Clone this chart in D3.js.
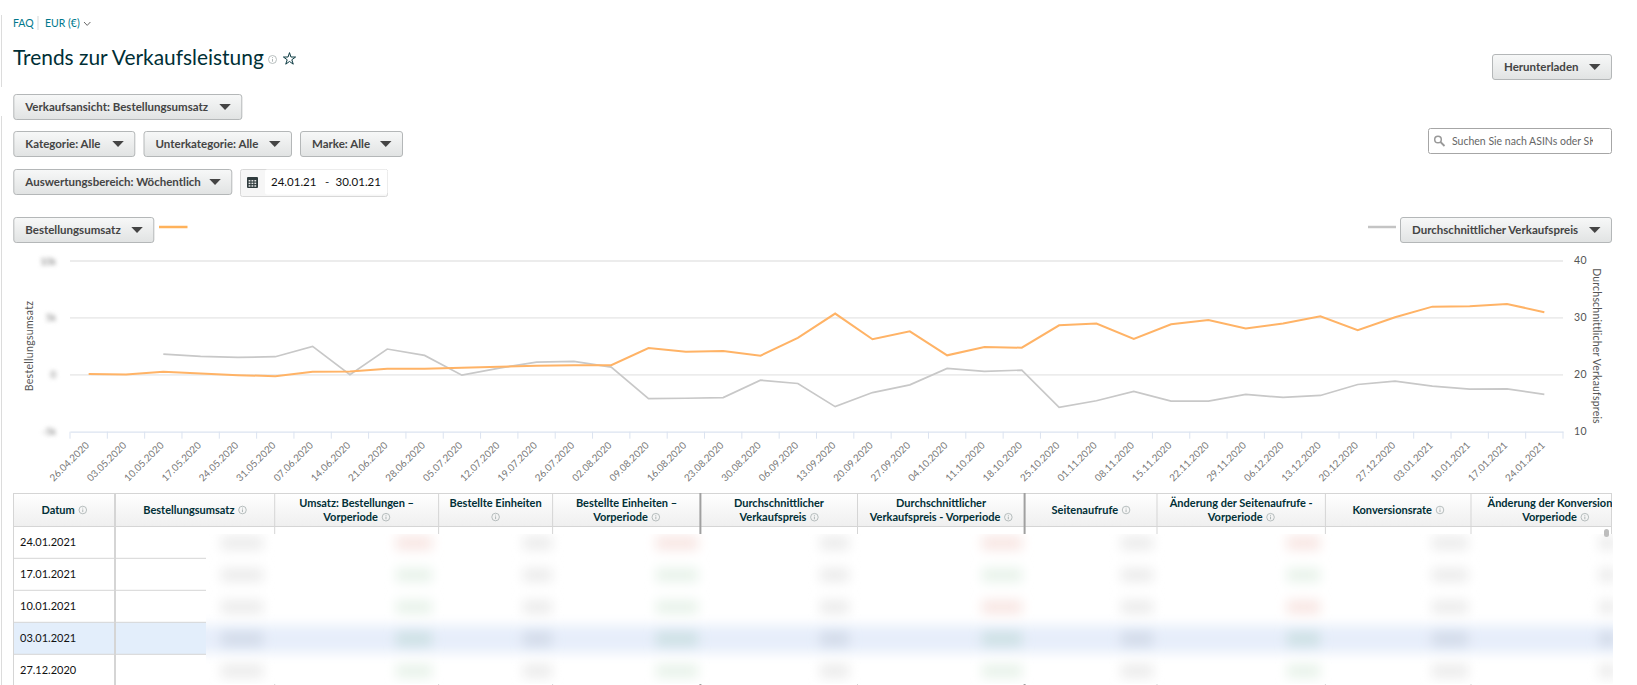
<!DOCTYPE html>
<html>
<head>
<meta charset="utf-8">
<script src="https://cdn.jsdelivr.net/npm/d3@7"></script>
<style>
  html, body { margin: 0; padding: 0; background: #fff; overflow: hidden; }
  text { font-family: Lato, "Noto Sans", sans-serif; }
  .btn text { font-weight: 700; font-size: 11.5px; fill: #444; }
  .th { font-weight: 700; font-size: 11px; fill: #002f36; text-anchor: middle; }
  .blurred { filter: blur(2px); }
</style>
</head>
<body>
<div id="container"></div>
<script>
const width = 1637;
const height = 685;

const dates = ["26.04.2020","03.05.2020","10.05.2020","17.05.2020","24.05.2020","31.05.2020","07.06.2020","14.06.2020","21.06.2020","28.06.2020",
  "05.07.2020","12.07.2020","19.07.2020","26.07.2020","02.08.2020","09.08.2020","16.08.2020","23.08.2020","30.08.2020","06.09.2020",
  "13.09.2020","20.09.2020","27.09.2020","04.10.2020","11.10.2020","18.10.2020","25.10.2020","01.11.2020","08.11.2020","15.11.2020",
  "22.11.2020","29.11.2020","06.12.2020","13.12.2020","20.12.2020","27.12.2020","03.01.2021","10.01.2021","17.01.2021","24.01.2021"];

// Bestellungsumsatz in thousands
const umsatz = [0.06,0.03,0.26,0.12,-0.03,-0.12,0.26,0.29,0.53,0.53,
  0.62,0.70,0.79,0.85,0.85,2.35,2.03,2.09,1.68,3.24,
  5.38,3.12,3.82,1.71,2.44,2.38,4.35,4.50,3.16,4.44,
  4.82,4.06,4.50,5.15,3.92,5.06,5.99,6.02,6.23,5.50];

// Durchschnittlicher Verkaufspreis, right axis; no value for the first two weeks
const preis = [null,null,23.65,23.24,23.06,23.18,25.0,20.0,24.53,23.41,
  19.94,21.18,22.24,22.35,21.35,15.82,15.88,16.0,19.06,18.47,
  14.41,16.88,18.24,21.12,20.59,20.82,14.29,15.44,17.08,15.38,
  15.38,16.55,16.02,16.37,18.30,18.89,18.01,17.49,17.54,16.55];

const buttons = [
  { label: "Verkaufsansicht: Bestellungsumsatz", x: 13.3, y: 94, w: 229 },
  { label: "Kategorie: Alle", x: 13.3, y: 131, w: 122 },
  { label: "Unterkategorie: Alle", x: 143.5, y: 131, w: 148.5 },
  { label: "Marke: Alle", x: 300, y: 131, w: 103 },
  { label: "Auswertungsbereich: Wöchentlich", x: 13.3, y: 169, w: 219 },
  { label: "Bestellungsumsatz", x: 13.3, y: 217, w: 141 },
  { label: "Durchschnittlicher Verkaufspreis", x: 1400, y: 217, w: 212 },
  { label: "Herunterladen", x: 1492, y: 54, w: 120 },
];

const columns = [
  { x0: 13.3, x1: 115, lines: ["Datum"] },
  { x0: 115, x1: 274.7, lines: ["Bestellungsumsatz"] },
  { x0: 274.7, x1: 438.6, lines: ["Umsatz: Bestellungen –", "Vorperiode"] },
  { x0: 438.6, x1: 552.6, lines: ["Bestellte Einheiten", ""] },
  { x0: 552.6, x1: 700.4, lines: ["Bestellte Einheiten –", "Vorperiode"] },
  { x0: 700.4, x1: 857.5, lines: ["Durchschnittlicher", "Verkaufspreis"] },
  { x0: 857.5, x1: 1024.6, lines: ["Durchschnittlicher", "Verkaufspreis - Vorperiode"] },
  { x0: 1024.6, x1: 1157, lines: ["Seitenaufrufe"] },
  { x0: 1157, x1: 1325.4, lines: ["Änderung der Seitenaufrufe -", "Vorperiode"] },
  { x0: 1325.4, x1: 1471, lines: ["Konversionsrate"] },
  { x0: 1471, x1: 1640, lines: ["Änderung der Konversionsrate -", "Vorperiode"], firstDx: 10 },
];

const rows = ["24.01.2021", "17.01.2021", "10.01.2021", "03.01.2021", "27.12.2020"];
const rowTop = [526.3, 558.3, 590.3, 622.3, 654.3];

// blurred table values: x range per column and the tint of each row
const smudges = [
  { x0: 221, x1: 263, c: "ggggg" },
  { x0: 396, x1: 432, c: "rtttt" },
  { x0: 523, x1: 552, c: "ggggg" },
  { x0: 656, x1: 698, c: "rtttt" },
  { x0: 820, x1: 849, c: "ggggg" },
  { x0: 982, x1: 1022, c: "rtrtt" },
  { x0: 1121, x1: 1153, c: "ggggg" },
  { x0: 1287, x1: 1320, c: "rtrtt" },
  { x0: 1432, x1: 1468, c: "ggggg" },
  { x0: 1599, x1: 1616, c: "ggggg" },
];
const tint = {
  g: ["#ececec", "#d3dbe9"],
  r: ["#f8e6e3", "#dcd6e4"],
  t: ["#e8f3ea", "#cde1e4"],
};

const svg = d3.select("#container").append("svg")
  .attr("width", width)
  .attr("height", height)
  .attr("viewBox", [0, 0, width, height])
  .style("display", "block");

const defs = svg.append("defs");
const grad = defs.append("linearGradient").attr("id", "btnGrad").attr("x2", 0).attr("y2", 1);
grad.append("stop").attr("offset", 0).attr("stop-color", "#f7f8f8");
grad.append("stop").attr("offset", 1).attr("stop-color", "#e1e3e3");
const headGrad = defs.append("linearGradient").attr("id", "headGrad").attr("x2", 0).attr("y2", 1);
headGrad.append("stop").attr("offset", 0).attr("stop-color", "#ffffff");
headGrad.append("stop").attr("offset", 1).attr("stop-color", "#efefef");
defs.append("filter").attr("id", "soft").attr("filterUnits", "userSpaceOnUse")
  .attr("x", 100).attr("y", 500).attr("width", 1637).attr("height", 220)
  .append("feGaussianBlur").attr("stdDeviation", 6);
defs.append("clipPath").attr("id", "tableClip").append("rect")
  .attr("x", 13).attr("y", 490).attr("width", 1599).attr("height", 200);
defs.append("clipPath").attr("id", "blockClip").append("rect")
  .attr("x", 206).attr("y", 534).attr("width", 1407).attr("height", 150);

function infoIcon(parent, x, y, r = 3.8, color = "#a6afaf") {
  const g = parent.append("g").attr("transform", `translate(${x},${y})`);
  g.append("circle").attr("r", r).attr("fill", "none").attr("stroke", color).attr("stroke-width", 0.8);
  g.append("line").attr("y1", -0.6).attr("y2", r * 0.55).attr("stroke", color).attr("stroke-width", 0.9);
  g.append("circle").attr("cy", -r * 0.5).attr("r", 0.5).attr("fill", color);
}

// page frame on the far left
svg.selectAll(".frame").data([[15, 87], [116, 685]]).join("line")
  .attr("x1", 1.5).attr("x2", 1.5)
  .attr("y1", (d) => d[0]).attr("y2", (d) => d[1])
  .attr("stroke", "#dcdcdc").attr("stroke-width", 1);

// top links and title
svg.append("text").attr("x", 13).attr("y", 27).attr("font-size", 10.5).attr("fill", "#00788c").text("FAQ");
svg.append("line").attr("x1", 38).attr("x2", 38).attr("y1", 16).attr("y2", 30).attr("stroke", "#d5d9d9");
svg.append("text").attr("x", 45).attr("y", 27).attr("font-size", 10.5).attr("fill", "#00788c").text("EUR (€)");
svg.append("path").attr("d", "M84 22 l3.2 3.4 l3.2 -3.4").attr("fill", "none").attr("stroke", "#555").attr("stroke-width", 0.9);
svg.append("text").attr("x", 13).attr("y", 65).attr("font-size", 20.9).attr("fill", "#002f36").text("Trends zur Verkaufsleistung");
infoIcon(svg, 272.5, 59.5, 4);
svg.append("path").attr("transform", "translate(289.5,59)")
  .attr("d", d3.symbol(d3.symbolStar, 46))
  .attr("fill", "none").attr("stroke", "#0b3a42").attr("stroke-width", 1);

// dropdown buttons
const btn = svg.selectAll(".btn").data(buttons).join("g")
  .attr("class", "btn")
  .attr("transform", (d) => `translate(${d.x},${d.y})`);
btn.append("rect")
  .attr("x", 0.5).attr("y", 0.5)
  .attr("width", (d) => d.w - 1).attr("height", 25)
  .attr("rx", 2.5)
  .attr("fill", "url(#btnGrad)")
  .attr("stroke", "#b4b7b8");
btn.append("text").attr("x", 12).attr("y", 17).text((d) => d.label);
btn.append("path")
  .attr("d", (d) => `M${d.w - 23} 10 h11.5 l-5.75 6 z`)
  .attr("fill", "#444");

// date range box
svg.append("rect").attr("x", 240.5).attr("y", 169.5).attr("width", 147).attr("height", 27)
  .attr("rx", 2).attr("fill", "#f6f6f6").attr("stroke", "#d8d8d8");
svg.append("rect").attr("x", 265).attr("y", 169.5).attr("width", 122.5).attr("height", 25)
  .attr("rx", 2).attr("fill", "#fff");
const cal = svg.append("g").attr("transform", "translate(247,177)");
cal.append("rect").attr("width", 11).attr("height", 11).attr("rx", 1).attr("fill", "#2f3b3d");
d3.range(3).forEach((r) => d3.range(3).forEach((c) => {
  cal.append("rect").attr("x", 1.6 + c * 2.9).attr("y", 3 + r * 2.6).attr("width", 1.8).attr("height", 1.5).attr("fill", "#e8e8e8");
}));
svg.append("text").attr("x", 271).attr("y", 186).attr("font-size", 11.5).attr("fill", "#111").text("24.01.21");
svg.append("text").attr("x", 325).attr("y", 186).attr("font-size", 11.5).attr("fill", "#333").text("-");
svg.append("text").attr("x", 335.5).attr("y", 186).attr("font-size", 11.5).attr("fill", "#111").text("30.01.21");

// search box
svg.append("rect").attr("x", 1428.5).attr("y", 128.5).attr("width", 183).attr("height", 25)
  .attr("rx", 2).attr("fill", "#fff").attr("stroke", "#a6a6a6");
svg.append("circle").attr("cx", 1438).attr("cy", 139.5).attr("r", 3.3).attr("fill", "none").attr("stroke", "#999").attr("stroke-width", 1.5);
svg.append("line").attr("x1", 1440.5).attr("y1", 142).attr("x2", 1444.5).attr("y2", 146).attr("stroke", "#999").attr("stroke-width", 1.8);
defs.append("clipPath").attr("id", "searchClip").append("rect").attr("x", 1450).attr("y", 128).attr("width", 143).attr("height", 26);
svg.append("text").attr("x", 1452).attr("y", 145).attr("font-size", 10.5).attr("fill", "#666")
  .attr("clip-path", "url(#searchClip)").text("Suchen Sie nach ASINs oder SKUs");

// legend dashes next to the two metric dropdowns
svg.append("line").attr("x1", 159).attr("x2", 187.5).attr("y1", 227).attr("y2", 227).attr("stroke", "#ffb25b").attr("stroke-width", 2.5);
svg.append("line").attr("x1", 1368).attr("x2", 1396).attr("y1", 227).attr("y2", 227).attr("stroke", "#c4c4c4").attr("stroke-width", 2.5);

// chart
const plot = { left: 70, right: 1563, top: 261, bottom: 431.7 };
const x = d3.scaleBand().domain(dates).range([plot.left, plot.right]);
const yLeft = d3.scaleLinear().domain([-5, 10]).range([plot.bottom, plot.top]);
const yRight = d3.scaleLinear().domain([10, 40]).range([plot.bottom, plot.top]);

const rightAxis = svg.append("g")
  .attr("transform", `translate(${plot.right},0)`)
  .call(d3.axisRight(yRight).tickValues([10, 20, 30, 40]).tickSize(0).tickPadding(11));
rightAxis.select(".domain").remove();
rightAxis.selectAll("text").attr("font-size", 10.5).attr("fill", "#555").attr("letter-spacing", 0.5).attr("dy", "0.25em")
  .style("font-family", "Lato");

const leftAxis = svg.append("g")
  .attr("transform", `translate(${plot.left},0)`)
  .call(d3.axisLeft(yLeft).tickValues([-5, 0, 5, 10]).tickSize(0).tickPadding(14).tickFormat((d) => (d === 0 ? "0" : `${d}k`)));
leftAxis.select(".domain").remove();
leftAxis.selectAll("text").attr("font-size", 9.5).attr("fill", "#777").attr("class", "blurred")
  .style("font-family", "Lato");

svg.append("g").selectAll("line").data([0, 5, 10]).join("line")
  .attr("x1", plot.left).attr("x2", plot.right)
  .attr("y1", (d) => yLeft(d)).attr("y2", (d) => yLeft(d))
  .attr("stroke", "#ececec").attr("stroke-width", 1.8);

const xAxis = svg.append("g")
  .attr("transform", `translate(0,${plot.bottom})`)
  .call(d3.axisBottom(x).tickSize(0));
xAxis.select(".domain").attr("stroke", "#dbe3f0").attr("stroke-width", 1.2);
xAxis.selectAll("text")
  .attr("font-size", 9.8)
  .attr("fill", "#777")
  .attr("letter-spacing", 0.1)
  .attr("text-anchor", "end")
  .attr("transform", "translate(-3,10) rotate(-45)")
  .attr("dx", 0).attr("dy", "0.6em").attr("y", 0)
  .style("font-family", "Lato");
xAxis.append("g").selectAll("line")
  .data(dates.map((d) => x(d)).concat(plot.right))
  .join("line")
  .attr("x1", (d) => d).attr("x2", (d) => d)
  .attr("y1", 0).attr("y2", 7)
  .attr("stroke", "#dbe3f0").attr("stroke-width", 1);

const cx = (i) => x(dates[i]) + x.bandwidth() / 2;
svg.append("path")
  .attr("fill", "none").attr("stroke", "#c8c8c8").attr("stroke-width", 1.7)
  .attr("d", d3.line().defined((d) => d !== null).x((d, i) => cx(i)).y((d) => yRight(d))(preis));
svg.append("path")
  .attr("fill", "none").attr("stroke", "#ffb366").attr("stroke-width", 2)
  .attr("d", d3.line().x((d, i) => cx(i)).y((d) => yLeft(d))(umsatz));

svg.append("text").attr("transform", "translate(33,346) rotate(-90)").attr("text-anchor", "middle")
  .attr("font-size", 10.5).attr("fill", "#555").attr("letter-spacing", 0.3).text("Bestellungsumsatz");
svg.append("text").attr("transform", "translate(1593,346) rotate(90)").attr("text-anchor", "middle")
  .attr("font-size", 10.5).attr("fill", "#555").attr("letter-spacing", 0.2).text("Durchschnittlicher Verkaufspreis");

// table
const table = svg.append("g").attr("clip-path", "url(#tableClip)");
table.append("rect").attr("x", 13.5).attr("y", 493.5).attr("width", 1598).attr("height", 33)
  .attr("fill", "url(#headGrad)").attr("stroke", "#d5d5d5");
table.append("rect").attr("x", 13.5).attr("y", rowTop[3]).attr("width", 1598).attr("height", 32).attr("fill", "#e3eefb");

table.selectAll(".rowline").data(rowTop.slice(1)).join("line")
  .attr("x1", 13).attr("x2", 1612)
  .attr("y1", (d) => d).attr("y2", (d) => d)
  .attr("stroke", "#d5d5d5");

table.selectAll(".colline").data(columns.slice(1)).join("line")
  .attr("x1", (d) => d.x0).attr("x2", (d) => d.x0)
  .attr("y1", 493).attr("y2", 685)
  .attr("stroke", (d) => (d.x0 === 700.4 || d.x0 === 1024.6 ? "#a0a0a0" : "#d5d5d5"))
  .attr("stroke-width", (d) => (d.x0 === 115 || d.x0 === 700.4 || d.x0 === 1024.6 ? 2 : 1));
table.append("line").attr("x1", 13.5).attr("x2", 13.5).attr("y1", 493).attr("y2", 685).attr("stroke", "#d5d5d5");
table.append("line").attr("x1", 1611.5).attr("x2", 1611.5).attr("y1", 493).attr("y2", 534).attr("stroke", "#d5d5d5");

columns.forEach((c) => {
  const mid = (c.x0 + c.x1) / 2;
  const two = c.lines.length === 2;
  c.lines.forEach((line, i) => {
    if (line === "") return;
    const baseY = two ? 507 + i * 14.2 : 514;
    const t = table.append("text").attr("class", "th")
      .attr("x", mid + (i === 0 && c.firstDx ? c.firstDx : 0))
      .attr("y", baseY)
      .text(line);
    if (i === c.lines.length - 1) {
      const w = t.node().getComputedTextLength();
      t.attr("x", mid - 6);
      infoIcon(table, mid - 6 + w / 2 + 8, baseY - 4);
    }
  });
  if (c.lines[1] === "") infoIcon(table, mid, 517);
});

table.selectAll(".date").data(rows).join("text")
  .attr("x", 20)
  .attr("y", (d, i) => rowTop[i] + 19.5)
  .attr("font-size", 11)
  .attr("fill", "#111")
  .text((d) => d);

// redacted part of the table: white block with blurred values
const block = svg.append("g").attr("clip-path", "url(#blockClip)");
block.append("rect").attr("x", 206).attr("y", 534).attr("width", 1407).attr("height", 150).attr("fill", "#fff");
block.append("rect").attr("x", 150).attr("y", 625).attr("width", 1520).attr("height", 28)
  .attr("fill", "#e7eefa").attr("filter", "url(#soft)");
const rowMid = [543, 575, 607, 639, 671];
smudges.forEach((s) => {
  block.append("g").attr("filter", "url(#soft)").selectAll("rect")
    .data(rowMid).join("rect")
    .attr("x", s.x0).attr("width", s.x1 - s.x0)
    .attr("y", (d) => d - 7).attr("height", 14)
    .attr("fill", (d, i) => tint[s.c[i]][i === 3 ? 1 : 0]);
});

// scrollbar thumb above the block
svg.append("rect").attr("x", 1604).attr("y", 529).attr("width", 5).attr("height", 8).attr("rx", 2.5).attr("fill", "#bdbdbd");
</script>
</body>
</html>
